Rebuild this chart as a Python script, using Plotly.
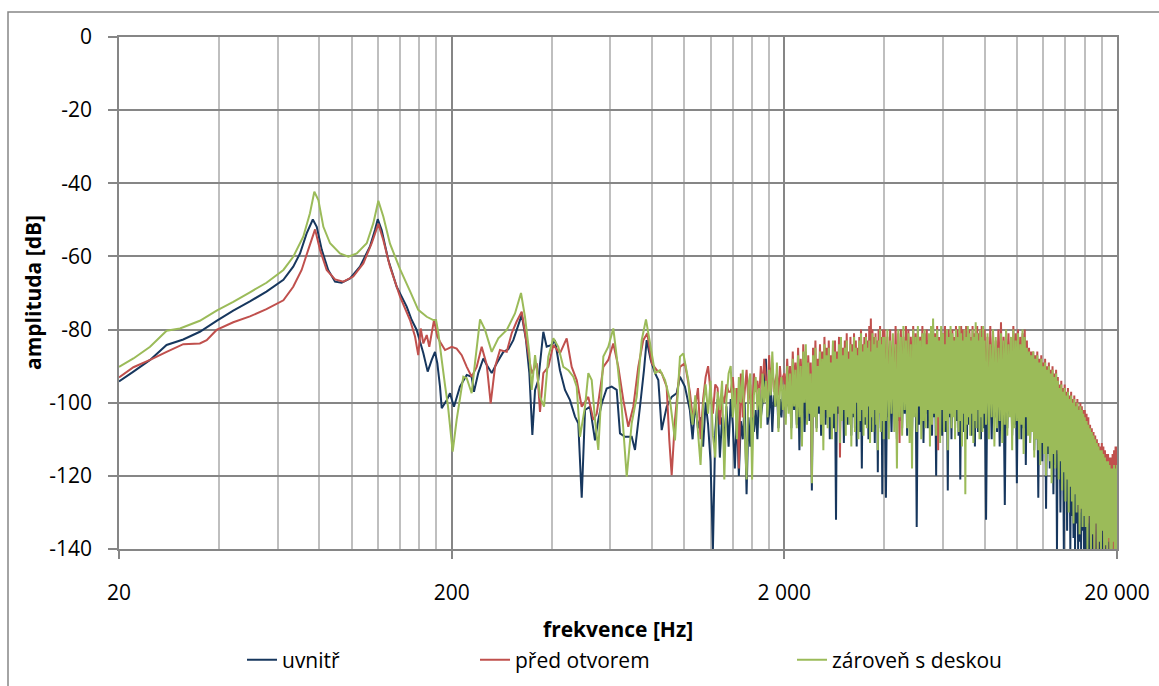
import plotly.graph_objects as go

# ---------------- data ----------------
series_names = ["uvnitř", "před otvorem", "zároveň s deskou"]

x_tick_vals = [20, 200, 2000, 20000]
x_tick_labels = ["20", "200", "2 000", "20 000"]
x_minor_vals = [40, 60, 80, 100, 120, 140, 160, 180,
                400, 600, 800, 1000, 1200, 1400, 1600, 1800,
                4000, 6000, 8000, 10000, 12000, 14000, 16000, 18000]
y_tick_vals = [0, -20, -40, -60, -80, -100, -120, -140]
y_tick_labels = ["0", "-20", "-40", "-60", "-80", "-100", "-120", "-140"]

# low / mid frequency part (individual readings per series)
freq_blue_lo = [20, 22.1, 24.8, 27.8, 31.2, 35.0, 39.3, 44.1, 49.5, 55.5, 62.4, 66.8, 70.0, 73.3, 76.5, 78.6,
                81.4, 85.1, 89.2, 93.4, 99.0, 106, 113.6, 117.6, 119.9, 123.2, 129, 136.7, 146.5, 151.7, 157,
                164.4, 169.4, 174.2, 178.2, 181.1, 184.5, 186.7, 193.2, 197.7, 203.2, 211.8, 222, 229.7, 233.4,
                240.4, 249, 255, 263.9, 273.2, 286, 296, 306.4, 317.2, 324.8, 334.6, 342.4, 349.6, 356.2, 364.4,
                377.2, 386, 399.6, 408.8, 423.2, 438.2, 453.6, 469.6, 480.4, 492, 503.4, 521, 539.4, 551.8, 565,
                584.8, 605.4, 626.8, 641.2, 663.8, 695.4, 711.4, 736.4, 757, 771.4, 793.2, 817.2, 836, 855.8,
                885.8, 917, 949.2, 971.2, 1005]
val_blue_lo = [-94.2, -91.5, -88.3, -84.2, -82.7, -80.6, -77.6, -74.8, -72.3, -69.6, -66.4, -62.8, -59.2, -53.7,
               -49.9, -51.9, -58.2, -63.7, -66.9, -67.2, -66.0, -62.8, -57.3, -52.8, -49.8, -52.8, -61.0, -68.3,
               -73.7, -77.4, -80.1, -86.5, -91.5, -88.3, -86.1, -89.2, -95.6, -101.5, -99.3, -97.4, -101.1, -95.6,
               -92.4, -92.9, -97.0, -91.9, -87.9, -89.7, -91.9, -89.2, -86.1, -85.4, -82.9, -78.8, -76.0, -82.9,
               -91.9, -108.8, -96.5, -93.8, -80.6, -84.7, -84.2, -82.9, -91.1, -96.5, -99.3, -103.8, -105.6, -126,
               -102, -101.1, -110.3, -104.7, -100.2, -96.1, -95.6, -96.5, -108.4, -109.3, -109.3, -112.9, -101.1,
               -91.1, -82.9, -88.3, -91.9, -93.8, -107.5, -101.1, -98.4, -97.4, -92.9, -95.6]

freq_red_lo = [20, 22.1, 24.8, 27.8, 31.2, 35.0, 36.7, 39.3, 44.1, 49.5, 55.5, 62.4, 66.8, 70.8, 74.1, 77.7, 80.4,
               84.2, 89.2, 94.5, 101.2, 108.5, 115, 120.4, 124.6, 130.5, 139.9, 149.9, 155.2, 158.7, 161.4, 164.4,
               168.3, 171.3, 177, 181.1, 184.5, 191, 200, 207, 214.4, 222, 229.7, 237.8, 246.2, 255, 262, 270,
               279.4, 292.8, 303, 313.6, 324.8, 336.2, 348, 360.4, 368.6, 377.2, 390.4, 404.2, 423.2, 443.4, 459,
               475.2, 492, 515, 533.2, 545.8, 571.4, 591.4, 612.2, 633.8, 656.2, 679.2, 703.2, 727.8, 753.4, 774.6,
               798.8, 826.8, 855.8, 885.8, 902.2, 917, 938.2, 971.2, 1005]
val_red_lo = [-93.1, -90.3, -88.3, -86.1, -84.0, -83.8, -82.9, -80.1, -78.0, -76.4, -74.4, -72.0, -68.3, -63.7,
              -58.2, -52.6, -58.2, -63.7, -66.3, -66.9, -65.5, -61.9, -56.4, -51.1, -55.5, -62.8, -71.0, -77.4,
              -81.9, -87.0, -79.7, -83.8, -81.5, -84.7, -77.4, -81.9, -83.3, -85.6, -84.7, -85.2, -87.0, -90.2,
              -92.9, -90.2, -84.7, -89.7, -100.2, -90.2, -85.6, -86.1, -81.0, -77.8, -75.1, -83.8, -92.0, -89.2,
              -102.5, -91.9, -90.2, -84.2, -86.5, -82.4, -90.2, -93.8, -101.1, -98.4, -104.7, -103.0, -90.2, -88.3,
              -83.8, -90.2, -99.3, -106.6, -101.1, -90.2, -82.9, -81.0, -89.2, -91.1, -91.9, -95.6, -110.3, -119.8,
              -104.7, -90.2, -89.2]

freq_green_lo = [20, 22.1, 24.8, 27.8, 30.5, 35.0, 39.3, 44.1, 49.5, 55.5, 62.4, 66.8, 71.6, 75.0, 77.3, 79.5,
                 82.3, 86.2, 92.3, 97.8, 103.7, 111.1, 116.3, 120.4, 124.6, 130.5, 139.9, 149.9, 158.7, 168.3, 176.1,
                 179.5, 182.4, 186.7, 191, 195, 201.4, 207, 216.8, 222, 229.7, 235, 243.4, 252, 263.9, 276.2, 292.8,
                 310, 323.2, 332.2, 342.4, 348, 356.2, 368.6, 379, 390.4, 404.2, 418.4, 433.2, 448.4, 464.2, 475.2,
                 486.2, 503.4, 515, 527.2, 539.4, 551.8, 571.4, 591.4, 612.2, 626.8, 648.8, 671.8, 695.4, 719.8,
                 745.2, 767.6, 789.6, 817.2, 845.8, 875.6, 906.4, 938.2, 971.2, 994, 1028.8]
val_green_lo = [-90.2, -87.9, -84.7, -80.3, -79.7, -77.6, -74.8, -72.4, -69.8, -67.2, -63.7, -60.1, -54.6, -48.2,
                -42.3, -44.6, -51.9, -56.4, -59.2, -60.1, -59.2, -56.4, -50.9, -44.8, -49.1, -56.5, -63.5, -69.5,
                -74.6, -76.5, -77.4, -77.4, -81.0, -88.3, -95.2, -101, -113.4, -104.7, -92.9, -93.3, -97.4, -89.2,
                -77.2, -80.1, -86.1, -82.4, -80.1, -75.6, -70.0, -76.5, -86.5, -96.5, -87.0, -98.4, -101.1, -87.4,
                -82.4, -84.7, -90.2, -91.1, -92.9, -95.6, -109.3, -101.1, -91.9, -93.8, -104.7, -112.9, -87.4, -84.7,
                -79.7, -87.4, -101.1, -120.2, -105.6, -98.4, -82.9, -77.2, -83.8, -91.9, -91.1, -93.8, -99.3, -110.3,
                -87.4, -86.5, -93.8]

# dense high-frequency part (shared frequency readings)
freq_hi_a = [1040, 1060, 1080, 1100, 1120, 1140, 1160, 1180, 1200, 1220, 1240, 1260, 1280, 1300, 1320, 1340,
             1360, 1380, 1400, 1420, 1440, 1460, 1480, 1500, 1520, 1540, 1560, 1580, 1600, 1620, 1640, 1660,
             1680, 1700, 1720, 1740, 1760, 1780, 1800, 1820, 1840, 1860, 1880, 1900, 1920, 1940, 1960, 1980]
freq_hi_b = [2000, 2020, 2040, 2060, 2080, 2100, 2120, 2140, 2160, 2180, 2200, 2220, 2240, 2260, 2280, 2300,
             2320, 2340, 2360, 2380, 2400, 2420, 2440, 2460, 2480, 2500, 2520, 2540, 2560, 2580, 2600, 2620,
             2640, 2660, 2680, 2700, 2720, 2740, 2760, 2780, 2800, 2820, 2840, 2860, 2880, 2900, 2920, 2940,
             2960, 2980, 3000, 3020, 3040, 3060, 3080, 3100, 3120, 3140, 3160, 3180, 3200, 3220, 3240, 3260,
             3280, 3300, 3320, 3340, 3360, 3380, 3400, 3420, 3440, 3460, 3480, 3500, 3520, 3540, 3560, 3580,
             3600, 3620, 3640, 3660, 3680, 3700, 3720, 3740, 3760, 3780, 3800, 3820, 3840, 3860, 3880, 3900,
             3920, 3940, 3960, 3980]
freq_hi_c = [4000, 4040, 4080, 4120, 4160, 4200, 4240, 4280, 4320, 4360, 4400, 4440, 4480, 4520, 4560, 4600,
             4640, 4680, 4720, 4760, 4800, 4840, 4880, 4920, 4960, 5000, 5040, 5080, 5120, 5160, 5200, 5240,
             5280, 5320, 5360, 5400, 5440, 5480, 5520, 5560, 5600, 5640, 5680, 5720, 5760, 5800, 5840, 5880,
             5920, 5960, 6000, 6040, 6080, 6120, 6160, 6200, 6240, 6280, 6320, 6360, 6400, 6440, 6480, 6520,
             6560, 6600, 6640, 6680, 6720, 6760, 6800, 6840, 6880, 6920, 6960, 7000, 7040, 7080, 7120, 7160,
             7200, 7240, 7280, 7320, 7360, 7400, 7440, 7480, 7520, 7560, 7600, 7640, 7680, 7720, 7760, 7800,
             7840, 7880, 7920, 7960]
freq_hi_d = [8000, 8080, 8160, 8240, 8320, 8400, 8480, 8560, 8640, 8720, 8800, 8880, 8960, 9040, 9120, 9200,
             9280, 9360, 9440, 9520, 9600, 9680, 9760, 9840, 9920, 10000, 10080, 10160, 10240, 10320, 10400,
             10480, 10560, 10640, 10720, 10800, 10880, 10960, 11040, 11120, 11200, 11280, 11360, 11440, 11520,
             11600, 11680, 11760, 11840, 11920, 12000, 12080, 12160, 12240, 12320, 12400, 12480, 12560, 12640,
             12720, 12800, 12880, 12960, 13040, 13120, 13200, 13280, 13360, 13440, 13520, 13600, 13680, 13760,
             13840, 13920, 14000, 14080, 14160, 14240, 14320, 14400, 14480, 14560, 14640, 14720, 14800, 14880,
             14960, 15040, 15120, 15200, 15280, 15360, 15440, 15520, 15600, 15680, 15760, 15840, 15920]
freq_hi_e = [16000, 16100, 16200, 16300, 16400, 16500, 16600, 16700, 16800, 16900, 17000, 17100, 17200, 17300,
             17400, 17500, 17600, 17700, 17800, 17900, 18000, 18100, 18200, 18300, 18400, 18500, 18600, 18700,
             18800, 18900, 19000, 19100, 19200, 19300, 19400, 19500, 19600, 19700, 19800, 19900, 20000]

blue_hi_a = [-102, -110, -100, -107, -104, -112, -100, -106, -116, -140, -108, -99, -115, -104, -110, -101,
             -112, -99, -106, -118, -103, -120, -105, -110, -100, -125, -104, -112, -98, -108, -102, -110,
             -96, -104, -100, -97, -88, -106, -103, -95, -108, -98, -101, -96, -107, -99, -104, -97]
blue_hi_b = [-96, -104, -94, -101, -97, -107, -93, -102, -95, -106, -92, -113, -96, -103, -94, -108, -97, -101,
             -93, -105, -95, -124, -92, -102, -96, -107, -94, -103, -91, -109, -95, -101, -93, -106, -97, -104,
             -92, -110, -94, -102, -91, -107, -95, -132, -93, -103, -90, -108, -94, -101, -92, -111, -96, -104,
             -91, -106, -93, -102, -95, -109, -92, -104, -90, -107, -94, -112, -91, -103, -93, -108, -95, -118,
             -92, -102, -90, -106, -94, -104, -91, -110, -93, -103, -90, -108, -92, -105, -94, -111, -91, -104,
             -93, -119, -90, -103, -92, -107, -94, -125, -91, -106]
blue_hi_c = [-92, -126, -90, -104, -93, -108, -89, -102, -91, -110, -94, -105, -90, -107, -92, -103, -89, -109,
             -93, -104, -91, -108, -94, -102, -90, -134, -92, -106, -89, -104, -93, -111, -91, -103, -90, -107,
             -92, -105, -94, -109, -90, -104, -92, -120, -89, -106, -91, -103, -93, -109, -90, -105, -92, -108,
             -94, -124, -90, -104, -91, -110, -93, -103, -89, -107, -92, -105, -90, -109, -91, -121, -93, -104,
             -90, -108, -92, -103, -89, -110, -91, -106, -93, -104, -90, -109, -92, -105, -91, -112, -89, -103,
             -93, -108, -90, -106, -92, -110, -91, -104, -90, -107]
blue_hi_d = [-92, -132, -90, -106, -93, -110, -91, -104, -94, -108, -90, -112, -92, -105, -95, -128, -91, -107,
             -93, -103, -90, -109, -94, -106, -92, -122, -91, -104, -93, -110, -95, -107, -92, -117, -90, -105,
             -94, -111, -96, -108, -97, -113, -95, -110, -98, -126, -96, -112, -99, -116, -97, -111, -98, -129,
             -100, -114, -97, -118, -99, -113, -101, -125, -98, -117, -100, -140, -102, -119, -104, -130, -103,
             -122, -105, -140, -104, -126, -106, -135, -105, -128, -107, -140, -106, -131, -108, -137, -107, -140,
             -109, -133, -108, -140, -110, -138, -109, -140, -111, -135, -110, -140]
blue_hi_e = [-114, -140, -116, -140, -118, -140, -119, -140, -120, -140, -121, -140, -122, -140, -124, -140,
             -125, -140, -126, -140, -127, -140, -128, -140, -128, -140, -129, -140, -130, -140, -130, -140,
             -131, -140, -132, -140, -131, -140, -132, -140, -130]

red_hi_a = [-97, -104, -101, -96, -110, -99, -93, -90, -97, -103, -95, -96, -106, -98, -100, -95, -97, -97,
            -93, -101, -96, -118, -92, -104, -97, -91, -100, -95, -104, -92, -97, -94, -99, -90, -96, -88,
            -93, -100, -87, -95, -89, -97, -94, -92, -98, -90, -96, -93]
red_hi_b = [-92, -99, -88, -97, -90, -101, -86, -96, -89, -100, -85, -98, -88, -102, -84, -97, -86, -99, -87, -96,
            -89, -120, -85, -98, -83, -101, -88, -96, -84, -99, -86, -103, -82, -97, -85, -100, -83, -98, -87, -101,
            -84, -97, -83, -100, -86, -96, -82, -115, -84, -99, -85, -97, -83, -102, -81, -98, -86, -100, -82, -97,
            -84, -99, -81, -101, -83, -96, -85, -100, -82, -98, -80, -97, -84, -101, -82, -99, -81, -96, -83, -100,
            -79, -98, -77, -101, -80, -97, -82, -100, -81, -96, -83, -99, -80, -98, -79, -101, -82, -97, -80, -100]
red_hi_c = [-80, -97, -82, -99, -80, -96, -83, -100, -79, -98, -81, -111, -80, -97, -82, -99, -79, -96, -80, -100,
            -82, -98, -79, -101, -81, -97, -80, -99, -82, -96, -79, -100, -81, -98, -80, -97, -83, -101, -80, -99,
            -79, -97, -81, -100, -79, -113, -82, -98, -80, -96, -81, -99, -79, -101, -82, -97, -80, -99, -81, -98,
            -80, -96, -82, -100, -79, -98, -80, -97, -81, -101, -79, -99, -80, -97, -82, -100, -79, -98, -81, -96,
            -80, -99, -82, -97, -79, -100, -81, -98, -80, -96, -79, -101, -81, -97, -80, -99, -79, -98, -81, -100]
red_hi_d = [-80, -98, -82, -101, -79, -97, -81, -100, -83, -96, -80, -99, -78, -102, -82, -97, -80, -100, -81, -98,
            -83, -101, -79, -97, -81, -99, -80, -103, -82, -98, -81, -100, -80, -97, -83, -102, -85, -100, -86, -104,
            -86, -101, -87, -105, -86, -103, -88, -107, -87, -104, -89, -106, -88, -110, -90, -105, -89, -108, -91,
            -112, -90, -107, -92, -111, -91, -109, -93, -114, -95, -110, -94, -116, -96, -113, -95, -118, -97, -114,
            -96, -121, -98, -117, -97, -120, -99, -125, -98, -118, -100, -122, -99, -124, -101, -130, -100, -123,
            -101, -128, -102, -126]
red_hi_e = [-102, -126, -103, -133, -104, -130, -106, -140, -107, -134, -108, -140, -109, -132, -110, -140,
            -111, -137, -112, -140, -111, -134, -112, -140, -113, -136, -114, -140, -114, -138, -115, -140,
            -115, -137, -114, -140, -113, -139, -112, -140, -112]

green_hi_a = [-100, -106, -98, -108, -117, -101, -95, -103, -94, -109, -115, -97, -102, -94, -121, -99, -92, -90,
              -104, -96, -110, -93, -100, -91, -108, -121, -95, -92, -121, -98, -93, -102, -96, -107, -92, -100,
              -94, -104, -91, -98, -86, -96, -101, -89, -108, -97, -93, -102]
green_hi_b = [-95, -106, -90, -103, -92, -110, -88, -101, -91, -107, -87, -104, -90, -112, -86, -100, -84, -106,
              -89, -103, -92, -122, -87, -104, -85, -108, -90, -101, -86, -106, -88, -113, -84, -102, -87, -107,
              -85, -104, -89, -110, -83, -103, -86, -108, -88, -101, -84, -111, -82, -105, -87, -102, -85, -109,
              -83, -104, -88, -106, -84, -112, -86, -103, -82, -108, -85, -100, -87, -110, -83, -105, -81, -102,
              -86, -109, -84, -104, -82, -107, -85, -101, -83, -111, -86, -104, -81, -108, -84, -102, -82, -106,
              -85, -113, -83, -103, -80, -108, -84, -105, -82, -110]
green_hi_c = [-82, -105, -80, -110, -83, -103, -81, -108, -84, -118, -80, -104, -82, -109, -79, -102, -83, -107,
              -81, -111, -84, -118, -80, -104, -82, -108, -79, -101, -83, -110, -81, -105, -80, -107, -84, -102,
              -81, -112, -79, -106, -77, -103, -82, -109, -80, -104, -83, -111, -79, -102, -81, -108, -84, -105,
              -80, -113, -82, -103, -79, -107, -81, -104, -83, -110, -80, -102, -82, -108, -79, -105, -81, -112,
              -83, -103, -80, -125, -82, -106, -79, -104, -81, -109, -83, -103, -80, -111, -82, -105, -78, -107,
              -81, -102, -83, -110, -80, -104, -82, -108, -79, -103]
green_hi_d = [-83, -106, -81, -110, -84, -104, -80, -112, -82, -107, -85, -105, -81, -111, -83, -106, -80, -109,
              -84, -104, -82, -113, -80, -107, -83, -105, -81, -110, -84, -106, -80, -114, -82, -104, -85, -109,
              -86, -111, -87, -108, -86, -115, -88, -110, -87, -113, -89, -117, -88, -111, -90, -114, -89, -120,
              -91, -112, -90, -116, -92, -122, -91, -114, -93, -118, -92, -113, -94, -121, -96, -116, -95, -124,
              -97, -119, -96, -127, -98, -121, -97, -130, -99, -123, -98, -127, -100, -133, -99, -125, -101, -130,
              -100, -128, -102, -136, -101, -129, -102, -134, -103, -131]
green_hi_e = [-104, -134, -105, -140, -106, -131, -107, -140, -108, -136, -109, -140, -110, -133, -111, -140,
              -112, -138, -113, -140, -113, -135, -114, -140, -115, -139, -116, -140, -116, -137, -117, -140,
              -118, -140, -118, -138, -117, -140, -118, -140, -117]

freq_hi = freq_hi_a + freq_hi_b + freq_hi_c + freq_hi_d + freq_hi_e
val_blue_hi = blue_hi_a + blue_hi_b + blue_hi_c + blue_hi_d + blue_hi_e
val_red_hi = red_hi_a + red_hi_b + red_hi_c + red_hi_d + red_hi_e
val_green_hi = green_hi_a + green_hi_b + green_hi_c + green_hi_d + green_hi_e

series_freqs = [freq_blue_lo + freq_hi, freq_red_lo + freq_hi, freq_green_lo + freq_hi]
series_vals = [val_blue_lo + val_blue_hi, val_red_lo + val_red_hi, val_green_lo + val_green_hi]

# ---------------- styling ----------------
colors = ["#17375E", "#C0504D", "#9BBB59"]
legend_ids = ["legend", "legend2", "legend3"]
FONT = "Open Sans"

fig = go.Figure()
for name, fx, vy, col, lg in zip(series_names, series_freqs, series_vals, colors, legend_ids):
    n = min(len(fx), len(vy))
    fig.add_trace(go.Scatter(x=fx[:n], y=vy[:n], mode="lines", name=name, legend=lg, showlegend=True,
                             line=dict(color=col, width=2, simplify=False)))

# pixel geometry of the plot area: x 119..1117, y 37..549
W, H = 1159, 686
L, R, T, B = 119, 1117, 37, 549
pw, ph = R - L, B - T


def px(xp):
    return (xp - L) / pw


def py(yp):
    return (B - yp) / ph


leg_common = dict(orientation="h", yanchor="middle", xanchor="left",
                  font=dict(family=FONT, size=21, color="#000"),
                  bgcolor="rgba(0,0,0,0)", borderwidth=0)

fig.update_layout(
    width=W, height=H,
    margin=dict(l=L, r=W - R, t=T, b=H - B, autoexpand=False),
    paper_bgcolor="white", plot_bgcolor="white",
    showlegend=True,
    font=dict(family=FONT, size=21, color="#000"),
    legend=dict(x=px(242), y=py(660), **leg_common),
    legend2=dict(x=px(475), y=py(660), **leg_common),
    legend3=dict(x=px(792), y=py(660), **leg_common),
    xaxis=dict(type="log", range=[1.30103, 4.30103],
               tickmode="array", tickvals=x_tick_vals, ticktext=x_tick_labels,
               ticks="outside", ticklen=8, tickwidth=1.5, tickcolor="#868686",
               ticklabelstandoff=16,
               showgrid=True, gridcolor="#868686", gridwidth=1.5,
               showline=True, linecolor="#868686", linewidth=1.5, mirror=True,
               zeroline=False,
               minor=dict(tickmode="array", tickvals=x_minor_vals, showgrid=True,
                          gridcolor="#BFBFBF", gridwidth=1.5, ticks=""),
               tickfont=dict(family=FONT, size=21, color="#000")),
    yaxis=dict(range=[-140, 0], tickmode="array", tickvals=y_tick_vals, ticktext=y_tick_labels,
               ticks="outside", ticklen=9, tickwidth=1.5, tickcolor="#868686",
               ticklabelstandoff=12,
               showgrid=True, gridcolor="#868686", gridwidth=1.5,
               showline=True, linecolor="#868686", linewidth=1.5, mirror=True,
               zeroline=False,
               tickfont=dict(family=FONT, size=21, color="#000")),
    annotations=[
        dict(text="<b>frekvence [Hz]</b>", xref="paper", yref="paper", x=0.5, y=py(629),
             xanchor="center", yanchor="middle", showarrow=False,
             font=dict(family=FONT, size=21, color="#000")),
        dict(text="<b>amplituda [dB]</b>", xref="paper", yref="paper", x=px(33), y=0.5,
             xanchor="center", yanchor="middle", textangle=-90, showarrow=False,
             font=dict(family=FONT, size=21, color="#000")),
    ],
    shapes=[
        dict(type="rect", xref="paper", yref="paper",
             x0=px(8), x1=px(1170), y0=py(700), y1=py(12),
             line=dict(color="#868686", width=1.5), fillcolor="rgba(0,0,0,0)", layer="below"),
    ],
)

fig.write_html("out.html")
